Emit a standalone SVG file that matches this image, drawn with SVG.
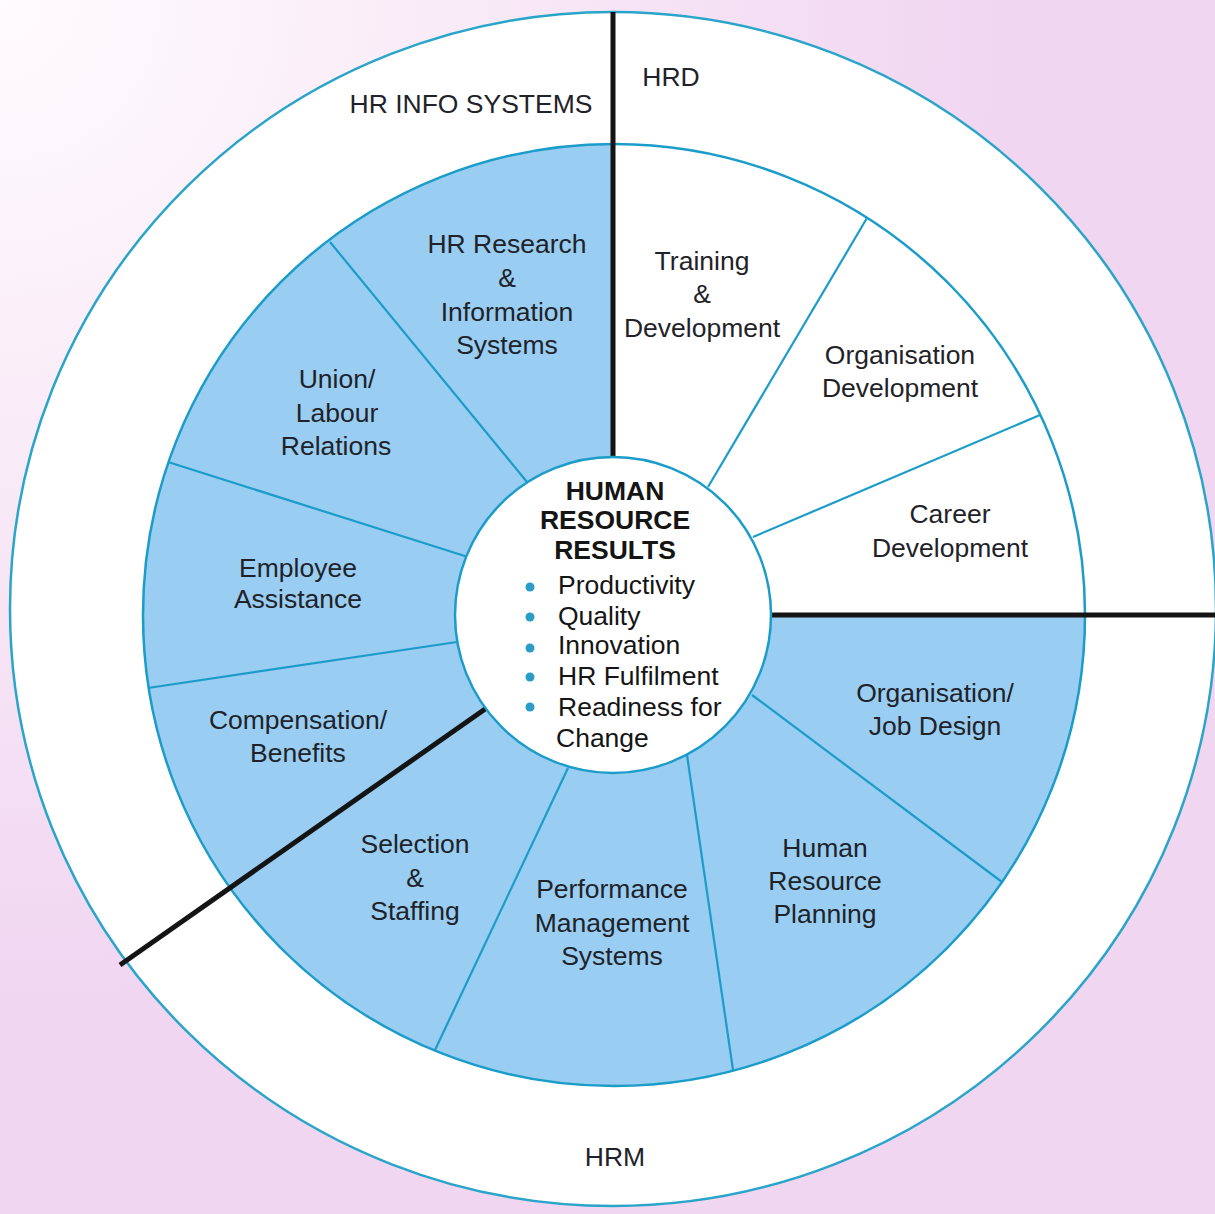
<svg xmlns="http://www.w3.org/2000/svg" width="1215" height="1214" viewBox="0 0 1215 1214">
  <defs>
    <radialGradient id="bg" cx="0" cy="0" r="1000" gradientUnits="userSpaceOnUse">
      <stop offset="0" stop-color="#fffbfe"/>
      <stop offset="0.45" stop-color="#f9ebf8"/>
      <stop offset="1" stop-color="#f1d6f1"/>
    </radialGradient>
  </defs>
  <style>
    .lbl { font-family: "Liberation Sans", Arial, sans-serif; font-size: 26.5px; fill: #1f2329; text-anchor: middle; }
    .ctr { font-family: "Liberation Sans", Arial, sans-serif; font-size: 26.5px; fill: #151515; }
    .bold { font-weight: bold; text-anchor: middle; }
    .div { stroke: #1b9cc9; stroke-width: 2.2; fill: none; }
    .blk { stroke: #141414; stroke-width: 5; fill: none; }
    .bul { fill: #2a9cc6; }
  </style>

  <rect x="0" y="0" width="1215" height="1214" fill="url(#bg)"/>

  <!-- outer ring -->
  <ellipse cx="613" cy="609" rx="603" ry="597" fill="#ffffff" stroke="#2aa5c9" stroke-width="2.5"/>

  <!-- segment ring -->
  <circle cx="614" cy="615" r="471" fill="#99cdf1"/>
  <path d="M614,615 L614,144 A471,471 0 0 1 1085,615 Z" fill="#ffffff"/>
  <circle cx="614" cy="615" r="471" fill="none" stroke="#1b9cc9" stroke-width="2.5"/>

  <g id="connectors">
    <line class="div" x1="527" y1="482" x2="330" y2="242"/>
    <line class="div" x1="468" y1="557" x2="168" y2="462"/>
    <line class="div" x1="457" y1="642" x2="148" y2="688"/>
    <line class="div" x1="708" y1="487" x2="867" y2="218"/>
    <line class="div" x1="753" y1="537" x2="1040" y2="415"/>
    <line class="div" x1="752" y1="695" x2="1002" y2="882"/>
    <line class="div" x1="687" y1="755" x2="733" y2="1070"/>
    <line class="div" x1="568" y1="768" x2="435" y2="1050"/>
    <line class="blk" x1="613" y1="12" x2="613" y2="458"/>
    <line class="blk" x1="770" y1="615" x2="1215" y2="615"/>
    <line class="blk" x1="488" y1="707" x2="120" y2="965"/>
  </g>

  <g id="center">
    <circle cx="613" cy="615" r="158" fill="#ffffff" stroke="#1b9cc9" stroke-width="2.5"/>
    <text class="ctr bold" x="615" y="500">HUMAN</text>
    <text class="ctr bold" x="615" y="529">RESOURCE</text>
    <text class="ctr bold" x="615" y="559">RESULTS</text>
    <circle class="bul" cx="530" cy="587" r="4.5"/>
    <circle class="bul" cx="530" cy="617" r="4.5"/>
    <circle class="bul" cx="530" cy="648" r="4.5"/>
    <circle class="bul" cx="530" cy="677" r="4.5"/>
    <circle class="bul" cx="530" cy="707" r="4.5"/>
    <text class="ctr" x="558" y="594">Productivity</text>
    <text class="ctr" x="558" y="625">Quality</text>
    <text class="ctr" x="558" y="654">Innovation</text>
    <text class="ctr" x="558" y="685">HR Fulfilment</text>
    <text class="ctr" x="558" y="716">Readiness for</text>
    <text class="ctr" x="556" y="747">Change</text>
  </g>

  <g id="hr-info-systems"><text class="lbl" x="471" y="113">HR INFO SYSTEMS</text></g>
  <g id="hrd"><text class="lbl" x="671" y="86">HRD</text></g>
  <g id="hrm"><text class="lbl" x="615" y="1166">HRM</text></g>

  <g id="hr-research">
    <text class="lbl" x="507" y="253">HR Research</text>
    <text class="lbl" x="507" y="287">&amp;</text>
    <text class="lbl" x="507" y="321">Information</text>
    <text class="lbl" x="507" y="354">Systems</text>
  </g>
  <g id="union">
    <text class="lbl" x="337" y="388">Union/</text>
    <text class="lbl" x="337" y="422">Labour</text>
    <text class="lbl" x="336" y="455">Relations</text>
  </g>
  <g id="employee-assistance">
    <text class="lbl" x="298" y="577">Employee</text>
    <text class="lbl" x="298" y="608">Assistance</text>
  </g>
  <g id="compensation">
    <text class="lbl" x="298" y="729">Compensation/</text>
    <text class="lbl" x="298" y="762">Benefits</text>
  </g>
  <g id="selection">
    <text class="lbl" x="415" y="853">Selection</text>
    <text class="lbl" x="415" y="887">&amp;</text>
    <text class="lbl" x="415" y="920">Staffing</text>
  </g>
  <g id="performance">
    <text class="lbl" x="612" y="898">Performance</text>
    <text class="lbl" x="612" y="932">Management</text>
    <text class="lbl" x="612" y="965">Systems</text>
  </g>
  <g id="hr-planning">
    <text class="lbl" x="825" y="857">Human</text>
    <text class="lbl" x="825" y="890">Resource</text>
    <text class="lbl" x="825" y="923">Planning</text>
  </g>
  <g id="job-design">
    <text class="lbl" x="935" y="702">Organisation/</text>
    <text class="lbl" x="935" y="735">Job Design</text>
  </g>
  <g id="training">
    <text class="lbl" x="702" y="270">Training</text>
    <text class="lbl" x="702" y="303">&amp;</text>
    <text class="lbl" x="702" y="337">Development</text>
  </g>
  <g id="org-development">
    <text class="lbl" x="900" y="364">Organisation</text>
    <text class="lbl" x="900" y="397">Development</text>
  </g>
  <g id="career">
    <text class="lbl" x="950" y="523">Career</text>
    <text class="lbl" x="950" y="557">Development</text>
  </g>
</svg>
